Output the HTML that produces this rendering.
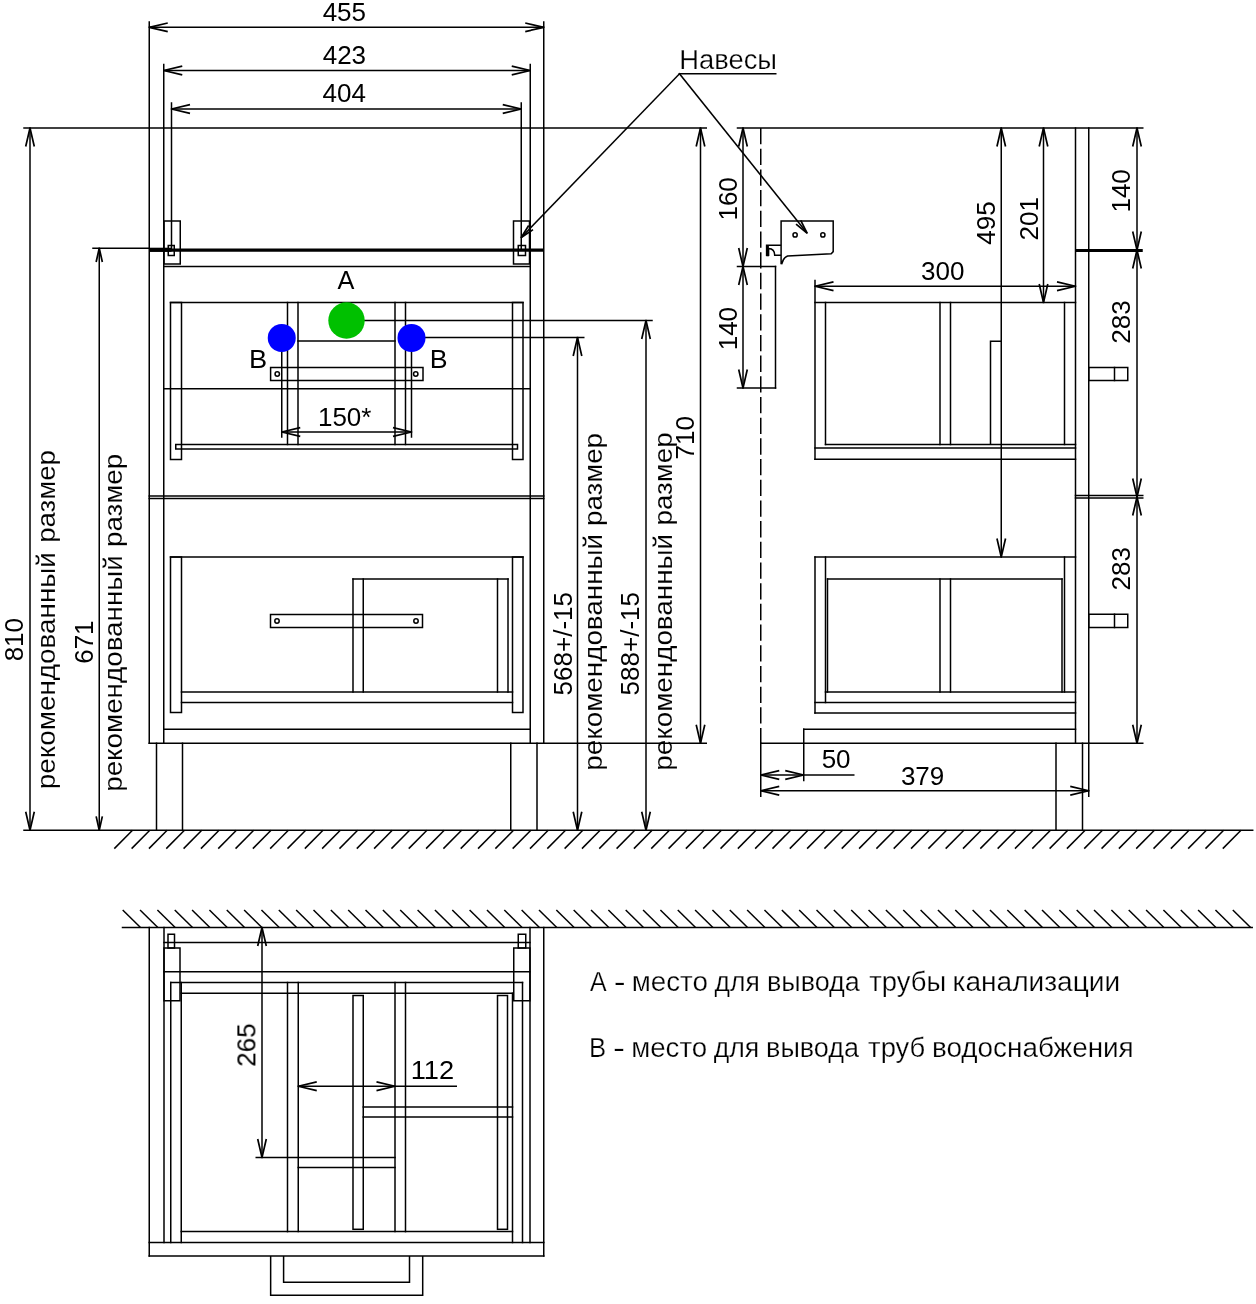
<!DOCTYPE html>
<html><head><meta charset="utf-8"><title>drawing</title>
<style>
html,body{margin:0;padding:0;background:#fff;}
svg{display:block;}
svg line,svg rect,svg path,svg circle{stroke:#000;fill:none;}
svg line{stroke-linecap:square;}
svg line[stroke-dasharray]{stroke-linecap:butt;}
svg text{font-family:"Liberation Sans",sans-serif;fill:#000;stroke:none;}
svg text.light{stroke:#fff;stroke-width:0.1px;}
svg text.light2{stroke:#fff;stroke-width:0.25px;}
</style></head><body>
<svg width="1256" height="1304" viewBox="0 0 1256 1304">
<rect x="0" y="0" width="1256" height="1304" style="fill:#fff;stroke:none"/>
<g style="filter:grayscale(1)"><text x="322.67" y="21.4" font-size="25.5" textLength="43.40" lengthAdjust="spacingAndGlyphs">455</text>
<text x="322.7" y="64.15" font-size="25.5" textLength="43.40" lengthAdjust="spacingAndGlyphs">423</text>
<text x="322.51" y="101.8" font-size="25.5" textLength="43.40" lengthAdjust="spacingAndGlyphs">404</text>
<text x="337.55" y="288.5" font-size="25.5" textLength="16.90" lengthAdjust="spacingAndGlyphs">A</text>
<text x="249.02" y="368" font-size="25.5" textLength="18.17" lengthAdjust="spacingAndGlyphs">B</text>
<text x="429.8" y="368" font-size="25.5" textLength="17.86" lengthAdjust="spacingAndGlyphs">B</text>
<text x="317.95" y="425.5" font-size="25.5" textLength="53.52" lengthAdjust="spacingAndGlyphs">150*</text>
<text x="679.26" y="68.7" font-size="27" class="light2" textLength="97.73" lengthAdjust="spacingAndGlyphs">Навесы</text>
<text x="921.06" y="280" font-size="25.5" textLength="43.40" lengthAdjust="spacingAndGlyphs">300</text>
<text x="821.65" y="768" font-size="25.5" textLength="28.93" lengthAdjust="spacingAndGlyphs">50</text>
<text x="900.92" y="785" font-size="25.5" textLength="43.40" lengthAdjust="spacingAndGlyphs">379</text>
<text x="410.72" y="1079.25" font-size="25.5" textLength="43.40" lengthAdjust="spacingAndGlyphs">112</text>
<text transform="translate(23.4,661.36) rotate(-90)" font-size="25.5" textLength="43.40" lengthAdjust="spacingAndGlyphs">810</text>
<text transform="translate(92.6,663.82) rotate(-90)" font-size="25.5" textLength="43.40" lengthAdjust="spacingAndGlyphs">671</text>
<text transform="translate(571.9,695.38) rotate(-90)" font-size="25.5" textLength="103.40" lengthAdjust="spacingAndGlyphs">568+/-15</text>
<text transform="translate(639.2,695.38) rotate(-90)" font-size="25.5" textLength="103.40" lengthAdjust="spacingAndGlyphs">588+/-15</text>
<text transform="translate(694.2,459.41) rotate(-90)" font-size="25.5" textLength="43.40" lengthAdjust="spacingAndGlyphs">710</text>
<text transform="translate(736.7,220.56) rotate(-90)" font-size="25.5" textLength="43.40" lengthAdjust="spacingAndGlyphs">160</text>
<text transform="translate(736.7,350.31) rotate(-90)" font-size="25.5" textLength="43.40" lengthAdjust="spacingAndGlyphs">140</text>
<text transform="translate(995.2,244.7) rotate(-90)" font-size="25.5" textLength="43.40" lengthAdjust="spacingAndGlyphs">495</text>
<text transform="translate(1037.9,240.47) rotate(-90)" font-size="25.5" textLength="43.40" lengthAdjust="spacingAndGlyphs">201</text>
<text transform="translate(1130.4,212.56) rotate(-90)" font-size="25.5" textLength="43.40" lengthAdjust="spacingAndGlyphs">140</text>
<text transform="translate(1130.4,343.66) rotate(-90)" font-size="25.5" textLength="43.40" lengthAdjust="spacingAndGlyphs">283</text>
<text transform="translate(1130.4,590.53) rotate(-90)" font-size="25.5" textLength="43.40" lengthAdjust="spacingAndGlyphs">283</text>
<text transform="translate(255.4,1066.81) rotate(-90)" font-size="25.5" textLength="43.40" lengthAdjust="spacingAndGlyphs">265</text>
<text transform="translate(54.8,789.3) rotate(-90)" font-size="26.4" class="light" textLength="237.23" lengthAdjust="spacingAndGlyphs">рекомендованный</text>
<text transform="translate(54.8,542.87) rotate(-90)" font-size="26.4" class="light" textLength="92.73" lengthAdjust="spacingAndGlyphs">размер</text>
<text transform="translate(121.6,791.79) rotate(-90)" font-size="26.4" class="light" textLength="236.52" lengthAdjust="spacingAndGlyphs">рекомендованный</text>
<text transform="translate(121.6,546.88) rotate(-90)" font-size="26.4" class="light" textLength="93.04" lengthAdjust="spacingAndGlyphs">размер</text>
<text transform="translate(602.0,770.79) rotate(-90)" font-size="26.4" class="light" textLength="236.92" lengthAdjust="spacingAndGlyphs">рекомендованный</text>
<text transform="translate(602.0,525.98) rotate(-90)" font-size="26.4" class="light" textLength="92.93" lengthAdjust="spacingAndGlyphs">размер</text>
<text transform="translate(671.6,770.79) rotate(-90)" font-size="26.4" class="light" textLength="236.92" lengthAdjust="spacingAndGlyphs">рекомендованный</text>
<text transform="translate(671.6,525.38) rotate(-90)" font-size="26.4" class="light" textLength="92.93" lengthAdjust="spacingAndGlyphs">размер</text>
<text x="589.95" y="991.0" font-size="26.8" class="light2" textLength="16.60" lengthAdjust="spacingAndGlyphs">А</text>
<text x="613.72" y="991.0" font-size="26.8" class="light2" textLength="11.87" lengthAdjust="spacingAndGlyphs">-</text>
<text x="631.78" y="991.0" font-size="26.8" class="light2" textLength="76.18" lengthAdjust="spacingAndGlyphs">место</text>
<text x="714.54" y="991.0" font-size="26.8" class="light2" textLength="45.19" lengthAdjust="spacingAndGlyphs">для</text>
<text x="766.95" y="991.0" font-size="26.8" class="light2" textLength="92.85" lengthAdjust="spacingAndGlyphs">вывода</text>
<text x="869.23" y="991.0" font-size="26.8" class="light2" textLength="76.87" lengthAdjust="spacingAndGlyphs">трубы</text>
<text x="952.5" y="991.0" font-size="26.8" class="light2" textLength="167.65" lengthAdjust="spacingAndGlyphs">канализации</text>
<text x="588.95" y="1057.4" font-size="26.8" class="light2" textLength="17.11" lengthAdjust="spacingAndGlyphs">В</text>
<text x="612.9" y="1057.4" font-size="26.8" class="light2" textLength="12.00" lengthAdjust="spacingAndGlyphs">-</text>
<text x="631.19" y="1057.4" font-size="26.8" class="light2" textLength="75.97" lengthAdjust="spacingAndGlyphs">место</text>
<text x="713.74" y="1057.4" font-size="26.8" class="light2" textLength="45.51" lengthAdjust="spacingAndGlyphs">для</text>
<text x="766.04" y="1057.4" font-size="26.8" class="light2" textLength="93.06" lengthAdjust="spacingAndGlyphs">вывода</text>
<text x="868.13" y="1057.4" font-size="26.8" class="light2" textLength="57.12" lengthAdjust="spacingAndGlyphs">труб</text>
<text x="931.98" y="1057.4" font-size="26.8" class="light2" textLength="201.74" lengthAdjust="spacingAndGlyphs">водоснабжения</text></g>
<line x1="149.25" y1="22" x2="149.25" y2="743.25" stroke-width="1.5" />
<line x1="543.75" y1="22" x2="543.75" y2="743.25" stroke-width="1.5" />
<line x1="163.75" y1="64.5" x2="163.75" y2="743.25" stroke-width="1.5" />
<line x1="530.25" y1="64.5" x2="530.25" y2="743.25" stroke-width="1.5" />
<line x1="171.5" y1="103" x2="171.5" y2="250" stroke-width="1.5" />
<line x1="521.25" y1="103" x2="521.25" y2="250" stroke-width="1.5" />
<line x1="24" y1="128" x2="706.25" y2="128" stroke-width="1.5" />
<line x1="737.5" y1="128" x2="1142.75" y2="128" stroke-width="1.5" />
<line x1="149.25" y1="250.1" x2="543.75" y2="250.1" stroke-width="3.1"  style="stroke-linecap:butt"/>
<line x1="149.25" y1="249.75" x2="171.5" y2="249.75" stroke-width="4.1"  style="stroke-linecap:butt"/>
<line x1="93" y1="248.25" x2="149.25" y2="248.25" stroke-width="1.5" />
<line x1="163.75" y1="266.5" x2="530.25" y2="266.5" stroke-width="1.5" />
<line x1="163.75" y1="388.75" x2="530.25" y2="388.75" stroke-width="1.5" />
<line x1="149.25" y1="496" x2="543.75" y2="496" stroke-width="1.5" />
<line x1="149.25" y1="498.5" x2="543.75" y2="498.5" stroke-width="1.5" />
<line x1="163.75" y1="729.25" x2="530.25" y2="729.25" stroke-width="1.5" />
<line x1="149.25" y1="743.25" x2="706.25" y2="743.25" stroke-width="1.5" />
<rect x="164" y="221" width="16.25" height="43" stroke-width="1.5"/>
<rect x="513.5" y="221" width="16.0" height="43" stroke-width="1.5"/>
<rect x="168.25" y="245.5" width="6.0" height="10.0" stroke-width="1.5"/>
<rect x="518.25" y="245.5" width="7.25" height="10.0" stroke-width="1.5"/>
<line x1="170.5" y1="302.5" x2="523" y2="302.5" stroke-width="1.5" />
<rect x="170.5" y="302.5" width="11.0" height="157.0" stroke-width="1.5"/>
<rect x="512.5" y="302.5" width="10.5" height="157.0" stroke-width="1.5"/>
<line x1="287.5" y1="302.5" x2="287.5" y2="444.5" stroke-width="1.5" />
<line x1="298" y1="302.5" x2="298" y2="444.5" stroke-width="1.5" />
<line x1="395" y1="302.5" x2="395" y2="444.5" stroke-width="1.5" />
<line x1="405.5" y1="302.5" x2="405.5" y2="444.5" stroke-width="1.5" />
<rect x="175.75" y="444.5" width="341.75" height="4.5" stroke-width="1.5"/>
<line x1="298" y1="341" x2="395" y2="341" stroke-width="1.5" />
<rect x="270.6" y="367.5" width="152.4" height="13.0" stroke-width="1.5"/>
<circle cx="277.25" cy="374" r="2.2" stroke-width="1.5"/>
<circle cx="415.75" cy="374" r="2.2" stroke-width="1.5"/>
<line x1="281.75" y1="338" x2="281.75" y2="437" stroke-width="1.5" />
<line x1="411.5" y1="338" x2="411.5" y2="437" stroke-width="1.5" />
<line x1="281.75" y1="432" x2="411.5" y2="432" stroke-width="1.5" />
<path d="M300.25,427.70 L281.75,432.00 L300.25,436.30" stroke-width="1.7"/>
<path d="M393.00,436.30 L411.50,432.00 L393.00,427.70" stroke-width="1.7"/>
<line x1="346.5" y1="320.5" x2="652" y2="320.5" stroke-width="1.5" />
<line x1="411.5" y1="337.5" x2="583.75" y2="337.5" stroke-width="1.5" />
<circle cx="346.5" cy="320.5" r="18.2" style="fill:#00c000;stroke:none"/>
<circle cx="281.75" cy="338" r="14" style="fill:#0000ff;stroke:none"/>
<circle cx="411.5" cy="338" r="14" style="fill:#0000ff;stroke:none"/>
<line x1="170.5" y1="557" x2="523" y2="557" stroke-width="1.5" />
<rect x="170.5" y="557" width="11.0" height="155.5" stroke-width="1.5"/>
<rect x="512.5" y="557" width="10.5" height="155.5" stroke-width="1.5"/>
<line x1="181.5" y1="692" x2="512.5" y2="692" stroke-width="1.5" />
<line x1="181.5" y1="702.5" x2="512.5" y2="702.5" stroke-width="1.5" />
<line x1="353" y1="579" x2="508" y2="579" stroke-width="1.5" />
<line x1="353" y1="579" x2="353" y2="692" stroke-width="1.5" />
<line x1="363.25" y1="579" x2="363.25" y2="692" stroke-width="1.5" />
<line x1="497.5" y1="579" x2="497.5" y2="692" stroke-width="1.5" />
<line x1="508" y1="579" x2="508" y2="692" stroke-width="1.5" />
<rect x="270.5" y="614.5" width="152.0" height="13.0" stroke-width="1.5"/>
<circle cx="277" cy="621" r="2.2" stroke-width="1.5"/>
<circle cx="416" cy="621" r="2.2" stroke-width="1.5"/>
<line x1="156.5" y1="743.25" x2="156.5" y2="830.2" stroke-width="1.5" />
<line x1="182.5" y1="743.25" x2="182.5" y2="830.2" stroke-width="1.5" />
<line x1="510.75" y1="743.25" x2="510.75" y2="830.2" stroke-width="1.5" />
<line x1="537" y1="743.25" x2="537" y2="830.2" stroke-width="1.5" />
<line x1="24" y1="830.2" x2="1252.7" y2="830.2" stroke-width="1.5" />
<path d="M132.50,830.2 L114.30,848.6" stroke-width="1.5"/>
<path d="M149.82,830.2 L131.62,848.6" stroke-width="1.5"/>
<path d="M167.14,830.2 L148.94,848.6" stroke-width="1.5"/>
<path d="M184.46,830.2 L166.26,848.6" stroke-width="1.5"/>
<path d="M201.78,830.2 L183.58,848.6" stroke-width="1.5"/>
<path d="M219.10,830.2 L200.90,848.6" stroke-width="1.5"/>
<path d="M236.42,830.2 L218.22,848.6" stroke-width="1.5"/>
<path d="M253.74,830.2 L235.54,848.6" stroke-width="1.5"/>
<path d="M271.06,830.2 L252.86,848.6" stroke-width="1.5"/>
<path d="M288.38,830.2 L270.18,848.6" stroke-width="1.5"/>
<path d="M305.70,830.2 L287.50,848.6" stroke-width="1.5"/>
<path d="M323.02,830.2 L304.82,848.6" stroke-width="1.5"/>
<path d="M340.34,830.2 L322.14,848.6" stroke-width="1.5"/>
<path d="M357.66,830.2 L339.46,848.6" stroke-width="1.5"/>
<path d="M374.98,830.2 L356.78,848.6" stroke-width="1.5"/>
<path d="M392.30,830.2 L374.10,848.6" stroke-width="1.5"/>
<path d="M409.62,830.2 L391.43,848.6" stroke-width="1.5"/>
<path d="M426.95,830.2 L408.75,848.6" stroke-width="1.5"/>
<path d="M444.27,830.2 L426.07,848.6" stroke-width="1.5"/>
<path d="M461.59,830.2 L443.39,848.6" stroke-width="1.5"/>
<path d="M478.91,830.2 L460.71,848.6" stroke-width="1.5"/>
<path d="M496.23,830.2 L478.03,848.6" stroke-width="1.5"/>
<path d="M513.55,830.2 L495.35,848.6" stroke-width="1.5"/>
<path d="M530.87,830.2 L512.67,848.6" stroke-width="1.5"/>
<path d="M548.19,830.2 L529.99,848.6" stroke-width="1.5"/>
<path d="M565.51,830.2 L547.31,848.6" stroke-width="1.5"/>
<path d="M582.83,830.2 L564.63,848.6" stroke-width="1.5"/>
<path d="M600.15,830.2 L581.95,848.6" stroke-width="1.5"/>
<path d="M617.47,830.2 L599.27,848.6" stroke-width="1.5"/>
<path d="M634.79,830.2 L616.59,848.6" stroke-width="1.5"/>
<path d="M652.11,830.2 L633.91,848.6" stroke-width="1.5"/>
<path d="M669.43,830.2 L651.23,848.6" stroke-width="1.5"/>
<path d="M686.75,830.2 L668.55,848.6" stroke-width="1.5"/>
<path d="M704.07,830.2 L685.87,848.6" stroke-width="1.5"/>
<path d="M721.39,830.2 L703.19,848.6" stroke-width="1.5"/>
<path d="M738.71,830.2 L720.51,848.6" stroke-width="1.5"/>
<path d="M756.03,830.2 L737.83,848.6" stroke-width="1.5"/>
<path d="M773.35,830.2 L755.15,848.6" stroke-width="1.5"/>
<path d="M790.67,830.2 L772.47,848.6" stroke-width="1.5"/>
<path d="M807.99,830.2 L789.79,848.6" stroke-width="1.5"/>
<path d="M825.31,830.2 L807.11,848.6" stroke-width="1.5"/>
<path d="M842.63,830.2 L824.43,848.6" stroke-width="1.5"/>
<path d="M859.95,830.2 L841.75,848.6" stroke-width="1.5"/>
<path d="M877.27,830.2 L859.07,848.6" stroke-width="1.5"/>
<path d="M894.59,830.2 L876.39,848.6" stroke-width="1.5"/>
<path d="M911.91,830.2 L893.71,848.6" stroke-width="1.5"/>
<path d="M929.23,830.2 L911.03,848.6" stroke-width="1.5"/>
<path d="M946.55,830.2 L928.35,848.6" stroke-width="1.5"/>
<path d="M963.88,830.2 L945.67,848.6" stroke-width="1.5"/>
<path d="M981.20,830.2 L963.00,848.6" stroke-width="1.5"/>
<path d="M998.52,830.2 L980.32,848.6" stroke-width="1.5"/>
<path d="M1015.84,830.2 L997.64,848.6" stroke-width="1.5"/>
<path d="M1033.16,830.2 L1014.96,848.6" stroke-width="1.5"/>
<path d="M1050.48,830.2 L1032.28,848.6" stroke-width="1.5"/>
<path d="M1067.80,830.2 L1049.60,848.6" stroke-width="1.5"/>
<path d="M1085.12,830.2 L1066.92,848.6" stroke-width="1.5"/>
<path d="M1102.44,830.2 L1084.24,848.6" stroke-width="1.5"/>
<path d="M1119.76,830.2 L1101.56,848.6" stroke-width="1.5"/>
<path d="M1137.08,830.2 L1118.88,848.6" stroke-width="1.5"/>
<path d="M1154.40,830.2 L1136.20,848.6" stroke-width="1.5"/>
<path d="M1171.72,830.2 L1153.52,848.6" stroke-width="1.5"/>
<path d="M1189.04,830.2 L1170.84,848.6" stroke-width="1.5"/>
<path d="M1206.36,830.2 L1188.16,848.6" stroke-width="1.5"/>
<path d="M1223.68,830.2 L1205.48,848.6" stroke-width="1.5"/>
<path d="M1241.00,830.2 L1222.80,848.6" stroke-width="1.5"/>
<line x1="149.25" y1="27.3" x2="543.75" y2="27.3" stroke-width="1.5" />
<path d="M167.75,23.00 L149.25,27.30 L167.75,31.60" stroke-width="1.7"/>
<path d="M525.25,31.60 L543.75,27.30 L525.25,23.00" stroke-width="1.7"/>
<line x1="163.75" y1="70.5" x2="530.25" y2="70.5" stroke-width="1.5" />
<path d="M182.25,66.20 L163.75,70.50 L182.25,74.80" stroke-width="1.7"/>
<path d="M511.75,74.80 L530.25,70.50 L511.75,66.20" stroke-width="1.7"/>
<line x1="171.5" y1="109" x2="521.25" y2="109" stroke-width="1.5" />
<path d="M190.00,104.70 L171.50,109.00 L190.00,113.30" stroke-width="1.7"/>
<path d="M502.75,113.30 L521.25,109.00 L502.75,104.70" stroke-width="1.7"/>
<line x1="30" y1="128" x2="30" y2="830.2" stroke-width="1.5" />
<path d="M34.30,146.50 L30.00,128.00 L25.70,146.50" stroke-width="1.7"/>
<path d="M25.70,811.70 L30.00,830.20 L34.30,811.70" stroke-width="1.7"/>
<line x1="99.25" y1="248.25" x2="99.25" y2="830.2" stroke-width="1.5" />
<path d="M102.35,262.05 L99.25,248.25 L96.15,262.05" stroke-width="1.7"/>
<path d="M96.15,816.40 L99.25,830.20 L102.35,816.40" stroke-width="1.7"/>
<line x1="577.5" y1="337.5" x2="577.5" y2="830.2" stroke-width="1.5" />
<path d="M581.80,356.00 L577.50,337.50 L573.20,356.00" stroke-width="1.7"/>
<path d="M573.20,811.70 L577.50,830.20 L581.80,811.70" stroke-width="1.7"/>
<line x1="646" y1="320.5" x2="646" y2="830.2" stroke-width="1.5" />
<path d="M650.30,339.00 L646.00,320.50 L641.70,339.00" stroke-width="1.7"/>
<path d="M641.70,811.70 L646.00,830.20 L650.30,811.70" stroke-width="1.7"/>
<line x1="700.5" y1="128" x2="700.5" y2="743.25" stroke-width="1.5" />
<path d="M704.80,146.50 L700.50,128.00 L696.20,146.50" stroke-width="1.7"/>
<path d="M696.20,724.75 L700.50,743.25 L704.80,724.75" stroke-width="1.7"/>
<line x1="679.5" y1="73.75" x2="775.75" y2="73.75" stroke-width="1.5" />
<line x1="679.5" y1="73.75" x2="521.25" y2="237.5" stroke-width="1.5" />
<path d="M528.68,225.49 L521.25,237.50 L533.00,229.66" stroke-width="1.7"/>
<line x1="679.5" y1="73.75" x2="807" y2="233" stroke-width="1.5" />
<path d="M796.03,224.10 L807.00,233.00 L800.72,220.35" stroke-width="1.7"/>
<line x1="760.75" y1="128" x2="760.75" y2="743.25" stroke-width="1.5" stroke-dasharray="16.3 4.39"/>
<line x1="760.75" y1="743.25" x2="760.75" y2="796.25" stroke-width="1.5" />
<line x1="743" y1="128" x2="743" y2="388" stroke-width="1.5" />
<path d="M747.30,146.50 L743.00,128.00 L738.70,146.50" stroke-width="1.7"/>
<path d="M738.70,248.00 L743.00,266.50 L747.30,248.00" stroke-width="1.7"/>
<path d="M747.30,285.00 L743.00,266.50 L738.70,285.00" stroke-width="1.7"/>
<path d="M738.70,369.50 L743.00,388.00 L747.30,369.50" stroke-width="1.7"/>
<line x1="737.5" y1="266.5" x2="775.5" y2="266.5" stroke-width="1.5" />
<line x1="737.5" y1="388" x2="775.5" y2="388" stroke-width="1.5" />
<line x1="775.5" y1="266.5" x2="775.5" y2="388" stroke-width="1.5" />
<path d="M781.1,264.3 L781.1,220.9 L833.2,220.9 L833.2,251.6 L831.2,253.7 L787.6,256 Q783.2,257.5 781.6,264.3" stroke-width="1.5"/>
<circle cx="795.1" cy="234.9" r="2.1" stroke-width="1.5"/>
<circle cx="822.85" cy="234.9" r="2.1" stroke-width="1.5"/>
<path d="M766.6,256 L766.6,245.2 L781.1,245.2 M768.6,256 L768.6,248.4 Q774.7,248.6 774.7,255.3 L781.1,255.3" stroke-width="1.5"/>
<line x1="767.6" y1="246" x2="767.6" y2="256.3" stroke-width="2.6"  style="stroke-linecap:butt"/>
<line x1="815" y1="280.5" x2="815" y2="459.25" stroke-width="1.5" />
<line x1="815" y1="302.5" x2="1075.5" y2="302.5" stroke-width="1.5" />
<line x1="825.5" y1="302.5" x2="825.5" y2="444.5" stroke-width="1.5" />
<line x1="825.5" y1="444.5" x2="1075.5" y2="444.5" stroke-width="1.5" />
<line x1="815" y1="448" x2="1075.5" y2="448" stroke-width="1.5" />
<line x1="815" y1="459.25" x2="1075.5" y2="459.25" stroke-width="1.5" />
<line x1="940" y1="302.5" x2="940" y2="444.5" stroke-width="1.5" />
<line x1="950.5" y1="302.5" x2="950.5" y2="444.5" stroke-width="1.5" />
<path d="M990.5,444.5 L990.5,341.25 L1001.25,341.25" stroke-width="1.5"/>
<line x1="1064.5" y1="302.5" x2="1064.5" y2="444.5" stroke-width="1.5" />
<line x1="815" y1="286.25" x2="1075.5" y2="286.25" stroke-width="1.5" />
<path d="M833.50,281.95 L815.00,286.25 L833.50,290.55" stroke-width="1.7"/>
<path d="M1057.00,290.55 L1075.50,286.25 L1057.00,281.95" stroke-width="1.7"/>
<line x1="1001.25" y1="128" x2="1001.25" y2="557" stroke-width="1.5" />
<path d="M1005.55,146.50 L1001.25,128.00 L996.95,146.50" stroke-width="1.7"/>
<path d="M996.95,538.50 L1001.25,557.00 L1005.55,538.50" stroke-width="1.7"/>
<line x1="1043.5" y1="128" x2="1043.5" y2="302.5" stroke-width="1.5" />
<path d="M1047.80,146.50 L1043.50,128.00 L1039.20,146.50" stroke-width="1.7"/>
<path d="M1039.20,284.00 L1043.50,302.50 L1047.80,284.00" stroke-width="1.7"/>
<line x1="1075.5" y1="128" x2="1075.5" y2="743.25" stroke-width="1.5" />
<line x1="1088.75" y1="128" x2="1088.75" y2="743.25" stroke-width="1.5" />
<line x1="1075.5" y1="250.5" x2="1142.75" y2="250.5" stroke-width="3.0"  style="stroke-linecap:butt"/>
<line x1="1075.5" y1="495.5" x2="1142.75" y2="495.5" stroke-width="1.5" />
<line x1="1075.5" y1="498" x2="1142.75" y2="498" stroke-width="1.5" />
<line x1="1137" y1="128" x2="1137" y2="743.25" stroke-width="1.5" />
<path d="M1141.30,146.50 L1137.00,128.00 L1132.70,146.50" stroke-width="1.7"/>
<path d="M1141.30,268.50 L1137.00,250.00 L1132.70,268.50" stroke-width="1.7"/>
<path d="M1141.30,515.50 L1137.00,497.00 L1132.70,515.50" stroke-width="1.7"/>
<path d="M1132.70,231.50 L1137.00,250.00 L1141.30,231.50" stroke-width="1.7"/>
<path d="M1132.70,478.50 L1137.00,497.00 L1141.30,478.50" stroke-width="1.7"/>
<path d="M1132.70,724.75 L1137.00,743.25 L1141.30,724.75" stroke-width="1.7"/>
<rect x="1088.75" y="367.5" width="39.0" height="13.0" stroke-width="1.5"/>
<line x1="1114.5" y1="367.5" x2="1114.5" y2="380.5" stroke-width="1.5" />
<rect x="1088.75" y="614.25" width="39.0" height="13.25" stroke-width="1.5"/>
<line x1="1114.5" y1="614.25" x2="1114.5" y2="627.5" stroke-width="1.5" />
<line x1="815" y1="557" x2="815" y2="713" stroke-width="1.5" />
<line x1="815" y1="557" x2="1075.5" y2="557" stroke-width="1.5" />
<line x1="825.5" y1="557" x2="825.5" y2="702.5" stroke-width="1.5" />
<line x1="827.5" y1="579" x2="827.5" y2="692" stroke-width="1.5" />
<line x1="827.5" y1="579" x2="1062" y2="579" stroke-width="1.5" />
<line x1="1062" y1="579" x2="1062" y2="692" stroke-width="1.5" />
<line x1="1064.5" y1="557" x2="1064.5" y2="692" stroke-width="1.5" />
<line x1="940" y1="579" x2="940" y2="692" stroke-width="1.5" />
<line x1="950.5" y1="579" x2="950.5" y2="692" stroke-width="1.5" />
<line x1="825.5" y1="692" x2="1075.5" y2="692" stroke-width="1.5" />
<line x1="815" y1="702.5" x2="1075.5" y2="702.5" stroke-width="1.5" />
<line x1="815" y1="713" x2="1075.5" y2="713" stroke-width="1.5" />
<line x1="803.75" y1="729.25" x2="1075.5" y2="729.25" stroke-width="1.5" />
<line x1="803.75" y1="729.25" x2="803.75" y2="780.5" stroke-width="1.5" />
<line x1="760.75" y1="743.25" x2="1142.75" y2="743.25" stroke-width="1.5" />
<line x1="1056" y1="743.25" x2="1056" y2="830.2" stroke-width="1.5" />
<line x1="1082.5" y1="743.25" x2="1082.5" y2="830.2" stroke-width="1.5" />
<line x1="1088.75" y1="743.25" x2="1088.75" y2="796.25" stroke-width="1.5" />
<line x1="760.75" y1="775" x2="853.75" y2="775" stroke-width="1.5" />
<path d="M779.25,770.70 L760.75,775.00 L779.25,779.30" stroke-width="1.7"/>
<path d="M785.25,779.30 L803.75,775.00 L785.25,770.70" stroke-width="1.7"/>
<line x1="760.75" y1="790.75" x2="1088.75" y2="790.75" stroke-width="1.5" />
<path d="M779.25,786.45 L760.75,790.75 L779.25,795.05" stroke-width="1.7"/>
<path d="M1070.25,795.05 L1088.75,790.75 L1070.25,786.45" stroke-width="1.7"/>
<line x1="122.5" y1="927.5" x2="1252.2" y2="927.5" stroke-width="1.5" />
<path d="M140.50,927.5 L122.70,910" stroke-width="1.5"/>
<path d="M157.85,927.5 L140.05,910" stroke-width="1.5"/>
<path d="M175.19,927.5 L157.39,910" stroke-width="1.5"/>
<path d="M192.54,927.5 L174.74,910" stroke-width="1.5"/>
<path d="M209.88,927.5 L192.08,910" stroke-width="1.5"/>
<path d="M227.23,927.5 L209.43,910" stroke-width="1.5"/>
<path d="M244.57,927.5 L226.77,910" stroke-width="1.5"/>
<path d="M261.92,927.5 L244.12,910" stroke-width="1.5"/>
<path d="M279.26,927.5 L261.46,910" stroke-width="1.5"/>
<path d="M296.61,927.5 L278.81,910" stroke-width="1.5"/>
<path d="M313.95,927.5 L296.15,910" stroke-width="1.5"/>
<path d="M331.30,927.5 L313.50,910" stroke-width="1.5"/>
<path d="M348.64,927.5 L330.84,910" stroke-width="1.5"/>
<path d="M365.99,927.5 L348.19,910" stroke-width="1.5"/>
<path d="M383.33,927.5 L365.53,910" stroke-width="1.5"/>
<path d="M400.68,927.5 L382.88,910" stroke-width="1.5"/>
<path d="M418.02,927.5 L400.22,910" stroke-width="1.5"/>
<path d="M435.37,927.5 L417.57,910" stroke-width="1.5"/>
<path d="M452.72,927.5 L434.92,910" stroke-width="1.5"/>
<path d="M470.06,927.5 L452.26,910" stroke-width="1.5"/>
<path d="M487.41,927.5 L469.61,910" stroke-width="1.5"/>
<path d="M504.75,927.5 L486.95,910" stroke-width="1.5"/>
<path d="M522.10,927.5 L504.30,910" stroke-width="1.5"/>
<path d="M539.44,927.5 L521.64,910" stroke-width="1.5"/>
<path d="M556.79,927.5 L538.99,910" stroke-width="1.5"/>
<path d="M574.13,927.5 L556.33,910" stroke-width="1.5"/>
<path d="M591.48,927.5 L573.68,910" stroke-width="1.5"/>
<path d="M608.82,927.5 L591.02,910" stroke-width="1.5"/>
<path d="M626.17,927.5 L608.37,910" stroke-width="1.5"/>
<path d="M643.51,927.5 L625.71,910" stroke-width="1.5"/>
<path d="M660.86,927.5 L643.06,910" stroke-width="1.5"/>
<path d="M678.20,927.5 L660.40,910" stroke-width="1.5"/>
<path d="M695.55,927.5 L677.75,910" stroke-width="1.5"/>
<path d="M712.90,927.5 L695.10,910" stroke-width="1.5"/>
<path d="M730.24,927.5 L712.44,910" stroke-width="1.5"/>
<path d="M747.59,927.5 L729.79,910" stroke-width="1.5"/>
<path d="M764.93,927.5 L747.13,910" stroke-width="1.5"/>
<path d="M782.28,927.5 L764.48,910" stroke-width="1.5"/>
<path d="M799.62,927.5 L781.82,910" stroke-width="1.5"/>
<path d="M816.97,927.5 L799.17,910" stroke-width="1.5"/>
<path d="M834.31,927.5 L816.51,910" stroke-width="1.5"/>
<path d="M851.66,927.5 L833.86,910" stroke-width="1.5"/>
<path d="M869.00,927.5 L851.20,910" stroke-width="1.5"/>
<path d="M886.35,927.5 L868.55,910" stroke-width="1.5"/>
<path d="M903.69,927.5 L885.89,910" stroke-width="1.5"/>
<path d="M921.04,927.5 L903.24,910" stroke-width="1.5"/>
<path d="M938.38,927.5 L920.58,910" stroke-width="1.5"/>
<path d="M955.73,927.5 L937.93,910" stroke-width="1.5"/>
<path d="M973.07,927.5 L955.27,910" stroke-width="1.5"/>
<path d="M990.42,927.5 L972.62,910" stroke-width="1.5"/>
<path d="M1007.77,927.5 L989.97,910" stroke-width="1.5"/>
<path d="M1025.11,927.5 L1007.31,910" stroke-width="1.5"/>
<path d="M1042.46,927.5 L1024.66,910" stroke-width="1.5"/>
<path d="M1059.80,927.5 L1042.00,910" stroke-width="1.5"/>
<path d="M1077.15,927.5 L1059.35,910" stroke-width="1.5"/>
<path d="M1094.49,927.5 L1076.69,910" stroke-width="1.5"/>
<path d="M1111.84,927.5 L1094.04,910" stroke-width="1.5"/>
<path d="M1129.18,927.5 L1111.38,910" stroke-width="1.5"/>
<path d="M1146.53,927.5 L1128.73,910" stroke-width="1.5"/>
<path d="M1163.87,927.5 L1146.07,910" stroke-width="1.5"/>
<path d="M1181.22,927.5 L1163.42,910" stroke-width="1.5"/>
<path d="M1198.56,927.5 L1180.76,910" stroke-width="1.5"/>
<path d="M1215.91,927.5 L1198.11,910" stroke-width="1.5"/>
<path d="M1233.25,927.5 L1215.45,910" stroke-width="1.5"/>
<path d="M1250.60,927.5 L1232.80,910" stroke-width="1.5"/>
<line x1="149.25" y1="927.5" x2="149.25" y2="1256" stroke-width="1.5" />
<line x1="543.75" y1="927.5" x2="543.75" y2="1256" stroke-width="1.5" />
<line x1="164" y1="927.5" x2="164" y2="1242.5" stroke-width="1.5" />
<line x1="530" y1="927.5" x2="530" y2="1242.5" stroke-width="1.5" />
<rect x="168" y="934.25" width="6.5" height="13.75" stroke-width="1.5"/>
<rect x="518.25" y="934.25" width="7.5" height="13.75" stroke-width="1.5"/>
<line x1="164" y1="942.5" x2="530" y2="942.5" stroke-width="1.5" />
<rect x="164" y="948" width="16" height="52.75" stroke-width="1.5"/>
<rect x="513.75" y="948" width="16.25" height="52.75" stroke-width="1.5"/>
<line x1="164" y1="971.75" x2="530" y2="971.75" stroke-width="1.5" />
<line x1="170.75" y1="982.5" x2="522.5" y2="982.5" stroke-width="1.5" />
<line x1="170.75" y1="982.5" x2="170.75" y2="1242.5" stroke-width="1.5" />
<line x1="522.5" y1="982.5" x2="522.5" y2="1242.5" stroke-width="1.5" />
<line x1="181.25" y1="993.25" x2="512.5" y2="993.25" stroke-width="1.5" />
<line x1="181.25" y1="982.5" x2="181.25" y2="1242.5" stroke-width="1.5" />
<line x1="512.5" y1="993.25" x2="512.5" y2="1242.5" stroke-width="1.5" />
<line x1="287.5" y1="982.5" x2="287.5" y2="1231.6" stroke-width="1.5" />
<line x1="298.25" y1="982.5" x2="298.25" y2="1231.6" stroke-width="1.5" />
<line x1="395" y1="982.5" x2="395" y2="1231.6" stroke-width="1.5" />
<line x1="405.5" y1="982.5" x2="405.5" y2="1231.6" stroke-width="1.5" />
<rect x="353" y="995.5" width="10.25" height="233.8" stroke-width="1.5"/>
<rect x="497.5" y="995.5" width="10.0" height="233.8" stroke-width="1.5"/>
<line x1="363.25" y1="1107" x2="512.5" y2="1107" stroke-width="1.5" />
<line x1="363.25" y1="1117" x2="512.5" y2="1117" stroke-width="1.5" />
<line x1="256.25" y1="1157.5" x2="395" y2="1157.5" stroke-width="1.5" />
<line x1="298.25" y1="1167.5" x2="395" y2="1167.5" stroke-width="1.5" />
<line x1="181.25" y1="1231.6" x2="512.5" y2="1231.6" stroke-width="1.5" />
<line x1="149.25" y1="1242.5" x2="543.75" y2="1242.5" stroke-width="1.5" />
<line x1="149.25" y1="1256" x2="543.75" y2="1256" stroke-width="1.5" />
<path d="M270.65,1256 L270.65,1295.2 L422.7,1295.2 L422.7,1256" stroke-width="1.5"/>
<path d="M283.6,1256 L283.6,1282.2 L409.5,1282.2 L409.5,1256" stroke-width="1.5"/>
<line x1="262" y1="927.5" x2="262" y2="1157.5" stroke-width="1.5" />
<path d="M266.30,946.00 L262.00,927.50 L257.70,946.00" stroke-width="1.7"/>
<path d="M257.70,1139.00 L262.00,1157.50 L266.30,1139.00" stroke-width="1.7"/>
<line x1="298.25" y1="1086.25" x2="456.25" y2="1086.25" stroke-width="1.5" />
<path d="M316.75,1081.95 L298.25,1086.25 L316.75,1090.55" stroke-width="1.7"/>
<path d="M376.50,1090.55 L395.00,1086.25 L376.50,1081.95" stroke-width="1.7"/>
</svg>
</body></html>
